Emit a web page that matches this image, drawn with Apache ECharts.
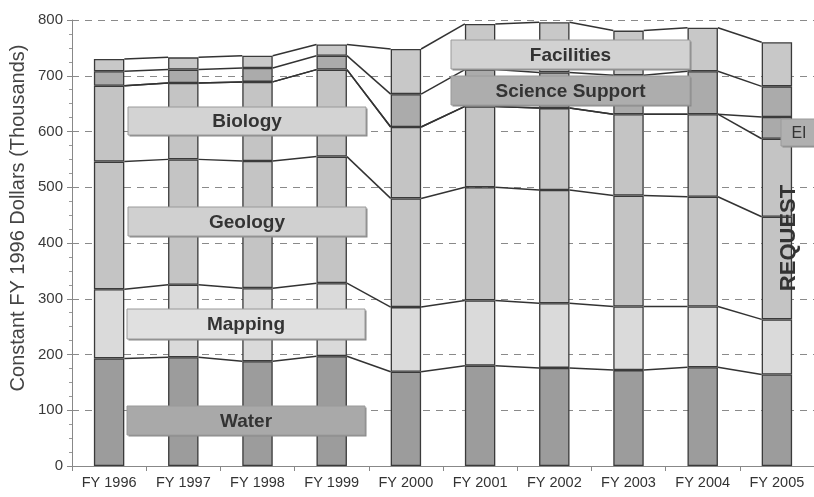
<!DOCTYPE html>
<html>
<head>
<meta charset="utf-8">
<script src="https://cdn.jsdelivr.net/npm/echarts@6/dist/echarts.min.js"></script>
<style>
html,body{margin:0;padding:0;background:#fff;}
#chart{width:814px;height:497px;}
</style>
</head>
<body>
<div id="chart"></div>
<script>
const categories = ['FY 1996','FY 1997','FY 1998','FY 1999','FY 2000','FY 2001','FY 2002','FY 2003','FY 2004','FY 2005'];
const water      = [193,195,188,197,169,180,176,172,177,164];
const mapping    = [124,130,131,131,116,117,116,114,109,99];
const geology    = [229,225,228,227,195,203,203,199,197,184];
const biology    = [136,137,142,156,128,145,147,146,148,140];
const ei         = [0,0,0,0,0,0,0,0,0,39];
const science    = [26,24,25,25,59,66,64,70,77,55];
const facilities = [22,22,22,20,81,82,90,80,78,79];
const yTicks = [0,100,200,300,400,500,600,700,800];
const yTitle = 'Constant FY 1996 Dollars (Thousands)';

const layers = [
  {name:'Water', data:water, color:'#9c9c9c'},
  {name:'Mapping', data:mapping, color:'#dadada'},
  {name:'Geology', data:geology, color:'#c4c4c4'},
  {name:'Biology', data:biology, color:'#c4c4c4'},
  {name:'EI', data:ei, color:'#aaaaaa'},
  {name:'Science Support', data:science, color:'#ababab'},
  {name:'Facilities', data:facilities, color:'#c8c8c8'}
];
const BAR_RATIO = 0.41;
const FONT = '"Liberation Sans", Arial, sans-serif';

// cumulative tops for connector lines
const cum = [];
let running = categories.map(() => 0);
layers.forEach(l => {
  running = running.map((r, i) => r + l.data[i]);
  cum.push(running.slice());
});
const connectorData = [];
cum.forEach(c => {
  for (let i = 0; i < c.length - 1; i++) connectorData.push([i, c[i], c[i + 1]]);
});

const barSeries = layers.map(l => ({
  type: 'bar',
  name: l.name,
  stack: 'total',
  barWidth: (BAR_RATIO * 100) + '%',
  data: l.data.map(v => v === 0 ? '-' : v),
  itemStyle: {color: l.color, borderColor: '#3a3a3a', borderWidth: 1.3},
  silent: true,
  z: 2
}));

const chart = echarts.init(document.getElementById('chart'), null, {renderer: 'canvas'});

function box(x, y, w, h, fill, text, opts) {
  opts = opts || {};
  return {
    type: 'group', z: 100,
    children: [
      {type: 'rect', shape: {x: x + 1.5, y: y + 1.5, width: w, height: h}, style: {fill: '#8a8a8a'}, z: 100},
      {type: 'rect', shape: {x: x, y: y, width: w, height: h}, style: {fill: fill, stroke: '#9a9a9a', lineWidth: 1}, z: 101},
      {type: 'text', x: x + (opts.tx != null ? opts.tx : w / 2), y: y + h / 2 + 1, z: 102,
        style: {text: text, fill: '#333', font: (opts.weight || 'bold') + ' ' + (opts.size || 19) + 'px ' + FONT, textAlign: 'center', textVerticalAlign: 'middle'}}
    ]
  };
}

chart.setOption({
  backgroundColor: '#ffffff',
  animation: false,
  grid: {left: 72, right: -8, top: 20, bottom: 31, containLabel: false},
  xAxis: {
    type: 'category',
    data: categories,
    axisLine: {lineStyle: {color: '#888', width: 1}},
    axisTick: {show: true, length: 5, lineStyle: {color: '#888'}},
    axisLabel: {color: '#333', fontSize: 14.5, margin: 9, fontFamily: FONT, interval: 0}
  },
  yAxis: {
    type: 'value',
    min: yTicks[0], max: yTicks[yTicks.length - 1], interval: 100,
    axisLine: {show: true, lineStyle: {color: '#888', width: 1}},
    axisTick: {show: true, length: 5, lineStyle: {color: '#888'}},
    minorTick: {show: true, splitNumber: 4, length: 3, lineStyle: {color: '#999'}},
    axisLabel: {color: '#3a3a3a', fontSize: 15, margin: 9, fontFamily: FONT},
    splitLine: {show: true, lineStyle: {color: '#8a8a8a', type: [7, 6], width: 1}}
  },
  series: barSeries.concat([{
    type: 'custom',
    name: 'connectors',
    silent: true,
    z: 3,
    data: connectorData,
    renderItem: function (params, api) {
      const i = api.value(0);
      const p1 = api.coord([i, api.value(1)]);
      const p2 = api.coord([i + 1, api.value(2)]);
      const half = api.size([1, 0])[0] * BAR_RATIO / 2;
      return {
        type: 'line',
        shape: {x1: p1[0] + half, y1: p1[1], x2: p2[0] - half, y2: p2[1]},
        style: {stroke: '#333', lineWidth: 1.5}
      };
    }
  }]),
  graphic: [
    {type: 'text', x: 18, y: 218, rotation: Math.PI / 2, z: 110,
      style: {text: yTitle, fill: '#444', font: '20px ' + FONT, textAlign: 'center', textVerticalAlign: 'middle'}},
    box(128, 107, 238, 28, '#d3d3d3', 'Biology'),
    box(128, 207, 238, 29, '#d0d0d0', 'Geology'),
    box(127, 309, 238, 30, '#e0e0e0', 'Mapping'),
    box(127, 406, 238, 29, '#a9a9a9', 'Water'),
    box(451, 40, 239, 29, '#d2d2d2', 'Facilities'),
    box(451, 76, 239, 29, '#adadad', 'Science Support'),
    box(781, 119, 40, 27, '#b0b0b0', 'EI', {size: 16, weight: 'normal', tx: 18}),
    {type: 'text', x: 789, y: 238, rotation: Math.PI / 2, z: 110,
      style: {text: 'REQUEST', fill: '#333', font: 'bold 22px ' + FONT, textAlign: 'center', textVerticalAlign: 'middle'}}
  ]
});
</script>
</body>
</html>
